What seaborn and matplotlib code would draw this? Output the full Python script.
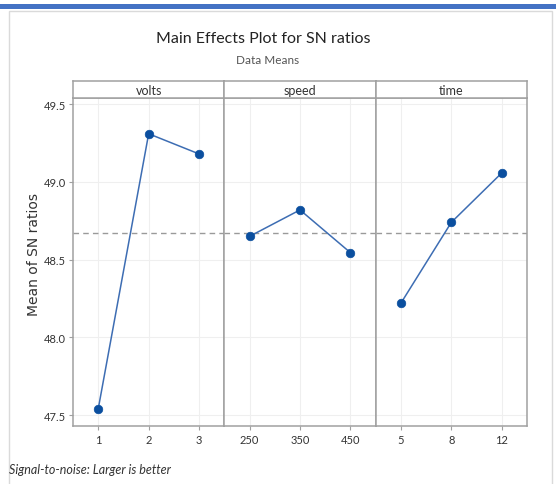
import matplotlib
matplotlib.use("Agg")
import matplotlib.pyplot as plt
import seaborn as sns
import pandas as pd
from matplotlib.patches import Rectangle

# Data
factors = ["volts", "speed", "time"]
volts_levels = ["1", "2", "3"]
volts_sn = [47.54, 49.31, 49.18]
speed_levels = ["250", "350", "450"]
speed_sn = [48.65, 48.82, 48.545]
time_levels = ["5", "8", "12"]
time_sn = [48.22, 48.74, 49.058]
y_ticks = [47.5, 48.0, 48.5, 49.0, 49.5]

levels = [volts_levels, speed_levels, time_levels]
values = [volts_sn, speed_sn, time_sn]
all_vals = volts_sn + speed_sn + time_sn
grand_mean = sum(all_vals) / len(all_vals)

sns.set_theme(style="white")
plt.rcParams['font.family'] = ['Lato', 'DejaVu Sans']

W, H = 556, 485
fig = plt.figure(figsize=(W / 100, H / 100), dpi=100)

def fx(px):
    return px / W

def fy(py):
    return 1 - py / H

# top blue bar and outer frame
fig.patches.append(Rectangle((0, fy(10)), 1, 5 / H, transform=fig.transFigure,
                             facecolor="#4472C4", edgecolor="none", zorder=-5))
fig.patches.append(Rectangle((fx(9), fy(490)), fx(552) - fx(9), fy(12) - fy(490),
                             transform=fig.transFigure, facecolor="none",
                             edgecolor="#DADADA", linewidth=1, zorder=-5))

left, right = 73, 527
top, bottom = 99, 427
strip_top = 82
pw = (right - left) / 3
gray = "#A0A0A0"
line_c = "#3D6DB3"
mark_c = "#0B4F9F"

for i, (fac, lv, vals) in enumerate(zip(factors, levels, values)):
    x0 = left + i * pw
    ax = fig.add_axes([fx(x0), fy(bottom), fx(pw), fy(top) - fy(bottom)])
    df = pd.DataFrame({"level": lv, "sn": vals})
    ax.axhline(grand_mean, color="#9A9A9A", linestyle=(0, (4, 3)), linewidth=1.0, zorder=1)
    sns.lineplot(data=df, x="level", y="sn", ax=ax, color=line_c, linewidth=1.1,
                 sort=False, zorder=3)
    sns.scatterplot(data=df, x="level", y="sn", ax=ax, color=mark_c, s=38,
                    edgecolor=mark_c, linewidth=0.5, zorder=4)
    ax.set_xlim(-0.5, 2.5)
    ax.set_ylim(47.43, 49.54)
    ax.set_yticks(y_ticks)
    ax.grid(True, color="#EFEFEF", linewidth=0.8)
    ax.set_axisbelow(True)
    for s in ax.spines.values():
        s.set_color(gray)
        s.set_linewidth(1.1)
    ax.set_xlabel("")
    ax.set_ylabel("")
    ax.tick_params(axis="x", length=3, width=0.8, color=gray, labelsize=8,
                   labelcolor="#333333", pad=3, bottom=True)
    if i == 0:
        ax.tick_params(axis="y", length=3, width=0.8, color=gray, labelsize=8,
                       labelcolor="#333333", pad=2, left=True)
        ax.set_yticklabels([f"{t:.1f}" for t in y_ticks])
    else:
        ax.tick_params(axis="y", left=False, labelleft=False)
    # strip
    sax = fig.add_axes([fx(x0), fy(top), fx(pw), fy(strip_top) - fy(top)])
    sax.set_xticks([])
    sax.set_yticks([])
    sax.set_facecolor("white")
    for s in sax.spines.values():
        s.set_color(gray)
        s.set_linewidth(1.1)
    sax.text(0.5, 0.45, fac, ha="center", va="center", fontsize=9,
             color="#333333", transform=sax.transAxes)

fig.text(fx(263), fy(39), "Main Effects Plot for SN ratios", ha="center", va="center",
         fontsize=11.5, color="#222222")
fig.text(fx(268), fy(60), "Data Means", ha="center", va="center",
         fontsize=8.5, color="#555555")
fig.text(fx(34), fy(255), "Mean of SN ratios", ha="center", va="center", rotation=90,
         fontsize=10, color="#333333", fontfamily="DejaVu Sans")
fig.text(fx(9), fy(470), "Signal-to-noise: Larger is better", ha="left", va="center",
         fontsize=9, style="italic", color="#333333")

fig.savefig("out.png", dpi=100)
